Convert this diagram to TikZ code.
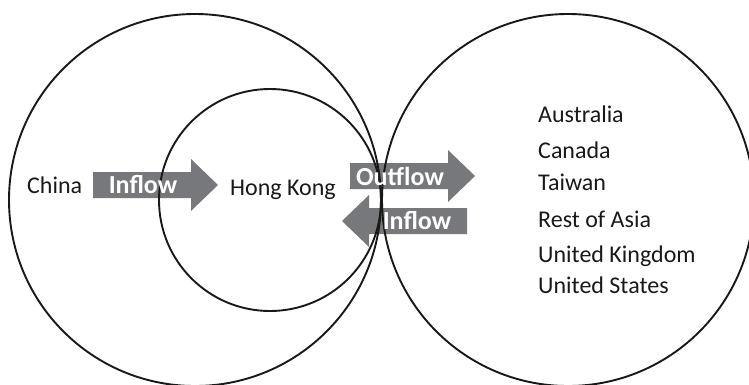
\documentclass[tikz,border=0pt]{standalone}
\usepackage{fontspec}
\setmainfont{Carlito}
\begin{document}
\begin{tikzpicture}[x=1pt,y=-1pt,
  ring/.style={draw=black!90, line width=1.9pt},
  blockarrow/.style={fill=flowgray},
  place/.style={anchor=base west, inner sep=0pt, font=\fontsize{24}{27}\selectfont, text=black!90},
  flowlabel/.style={anchor=center, inner sep=0pt, font=\fontsize{26}{29}\selectfont\bfseries, text=white}]
\definecolor{flowgray}{HTML}{77787B}
\useasboundingbox (0,0) rectangle (749,385);

% block arrows
\fill[blockarrow] (93,172) -- (191,172) -- (191,159) -- (218,185) -- (191,211) -- (191,198) -- (93,198) -- cycle;
\fill[blockarrow] (350,163) -- (448,163) -- (448,150) -- (475,176) -- (448,202) -- (448,189) -- (350,189) -- cycle;
\fill[blockarrow] (467,208) -- (369,208) -- (369,195) -- (342,221) -- (369,247) -- (369,234) -- (467,234) -- cycle;

% circles
\draw[ring] (195,200) circle[radius=186];
\draw[ring] (270,200) circle[radius=111];
\draw[ring] (568,200) circle[radius=186];

% arrow labels
\node[flowlabel] (inA) at (143,185) {Inflow};
\node[flowlabel] (out) at (400,176) {Outflow};
\node[flowlabel] (inB) at (417,221) {Inflow};

% places
\node[place] (china) at (27,193) {China};
\node[place] (hk) at (230,195) {Hong Kong};
\node[place] (au) at (538,122) {Australia};
\node[place] (ca) at (538,158) {Canada};
\node[place] (tw) at (538,190) {Taiwan};
\node[place] (ra) at (538,227) {Rest of Asia};
\node[place] (uk) at (538,262) {United Kingdom};
\node[place] (us) at (538,293) {United States};
\end{tikzpicture}
\end{document}
